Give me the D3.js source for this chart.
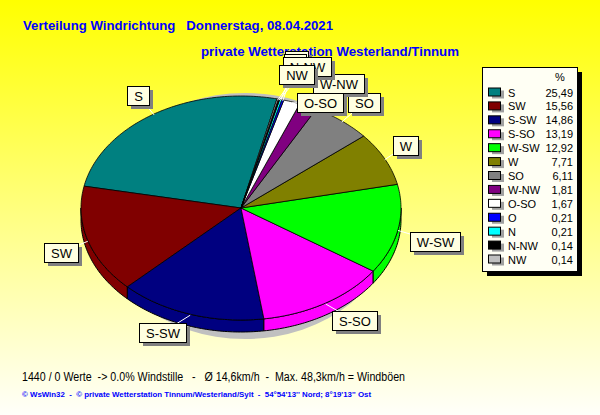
<!DOCTYPE html>
<html>
<head>
<meta charset="utf-8">
<script src="https://cdn.jsdelivr.net/npm/d3@7"></script>
<style>
  body { margin: 0; }
  svg { display: block; font-family: Arial, "Liberation Sans", sans-serif; }
</style>
</head>
<body>
<svg id="chart" width="600" height="415"></svg>
<script>
// wind direction shares, in legend order (pie runs counter-clockwise in this order)
const directions = ['S', 'SW', 'S-SW', 'S-SO', 'W-SW', 'W', 'SO', 'W-NW', 'O-SO', 'O', 'N', 'N-NW', 'NW'];
const shares = [25.49, 15.56, 14.86, 13.19, 12.92, 7.71, 6.11, 1.81, 1.67, 0.21, 0.21, 0.14, 0.14];
const colours = ['#008080', '#800000', '#000080', '#ff00ff', '#00ff00', '#808000', '#808080',
                 '#800080', '#ffffff', '#0000ff', '#00ffff', '#000000', '#c0c0c0'];
const shareLabels = shares.map(v => v.toFixed(2).replace('.', ','));

const title1 = 'Verteilung Windrichtung   Donnerstag, 08.04.2021';
const title2 = 'private Wetterstation Westerland/Tinnum';
const summary = '1440 / 0 Werte  -> 0.0% Windstille   -   Ø 14,6km/h  -  Max. 48,3km/h = Windböen';
const footer = "© WsWin32  -  © private Wetterstation Tinnum/Westerland/Sylt  -  54°54'13'' Nord; 8°19'13'' Ost";

// where the label boxes sit (top-left corners), same order as directions
const labelBoxes = [[127, 86], [44, 243], [139, 323], [332, 311], [410, 232], [393, 136], [348, 93],
                    [313, 74], [297, 93], [285, 51], [284, 54], [283, 57], [279, 65]];

const svg = d3.select('#chart');
const W = +svg.attr('width'), H = +svg.attr('height');

// background gradient, yellow at the top fading out
const defs = svg.append('defs');
const grad = defs.append('linearGradient').attr('id', 'bg').attr('x1', 0).attr('y1', 0).attr('x2', 0).attr('y2', 1);
grad.append('stop').attr('offset', '0%').attr('stop-color', '#ffff00');
grad.append('stop').attr('offset', '100%').attr('stop-color', '#fffffa');
svg.append('rect').attr('width', W).attr('height', H).attr('fill', 'url(#bg)');

// titles
svg.append('text').attr('x', 23).attr('y', 30).attr('fill', '#0000ff')
  .style('font-weight', 'bold').style('font-size', '13px').style('white-space', 'pre')
  .attr('textLength', 310).attr('lengthAdjust', 'spacingAndGlyphs').text(title1);
svg.append('text').attr('x', 201).attr('y', 55.5).attr('fill', '#0000ff')
  .style('font-weight', 'bold').style('font-size', '13px')
  .attr('textLength', 258).attr('lengthAdjust', 'spacingAndGlyphs').text(title2);

// pie geometry
const cx = 241, cy = 208, rx = 160, ry = 112, depth = 12;
const a0 = 13 * Math.PI / 180;
const pie = d3.pie().sort(null).value(d => d.value).startAngle(a0).endAngle(a0 - 2 * Math.PI);
const table = directions.map((d, i) => ({ name: d, value: shares[i], colour: colours[i] }));
const arcs = pie(table);

const px = a => cx + rx * Math.sin(a);
const py = a => cy - ry * Math.cos(a);
const line = d3.line();
function edge(from, to, dy) {
  const n = Math.max(2, Math.ceil(Math.abs(to - from) * 60));
  return d3.range(n + 1).map(i => {
    const a = from + (to - from) * i / n;
    return [px(a), py(a) + dy];
  });
}

// soft gray shadow under the pie
svg.append('ellipse').attr('cx', 245).attr('cy', 216).attr('rx', 150).attr('ry', 123).attr('fill', '#c0c0c0');

// side walls, only the front half is visible
const frontLo = -1.5 * Math.PI, frontHi = -0.5 * Math.PI;
const sides = svg.append('g');
arcs.forEach(d => {
  const lo = Math.max(d.endAngle, frontLo), hi = Math.min(d.startAngle, frontHi);
  if (hi <= lo) return;
  const top = edge(hi, lo, 0);
  const bottom = edge(lo, hi, depth);
  sides.append('path').attr('d', line(top.concat(bottom)) + 'Z')
    .attr('fill', d.data.colour).attr('stroke', '#000').attr('stroke-width', 1);
});

// top faces
const faces = svg.append('g');
arcs.forEach(d => {
  const pts = [[cx, cy]].concat(edge(d.startAngle, d.endAngle, 0));
  faces.append('path').attr('d', line(pts) + 'Z')
    .attr('fill', d.data.colour).attr('stroke', '#000').attr('stroke-width', 0.8)
    .attr('stroke-linejoin', 'round');
});

// labels with leader lines
const labels = svg.append('g').style('font-size', '13px');
arcs.forEach((d, i) => {
  const mid = (d.startAngle + d.endAngle) / 2;
  const [bx, by] = labelBoxes[i];
  const t = labels.append('text').attr('x', 0).attr('y', 0).text(d.data.name);
  const tw = t.node().getComputedTextLength();
  t.remove();
  const bw = Math.round(tw + 13), bh = 19;
  labels.append('line')
    .attr('x1', px(mid)).attr('y1', py(mid) + 1)
    .attr('x2', bx + bw / 2).attr('y2', by + bh / 2)
    .attr('stroke', '#fff').attr('stroke-width', 1);
});
arcs.forEach((d, i) => {
  const [bx, by] = labelBoxes[i];
  const g = labels.append('g').attr('transform', `translate(${bx},${by})`);
  const t = g.append('text').text(d.data.name);
  const tw = t.node().getComputedTextLength();
  const bw = Math.round(tw + 13), bh = 19;
  g.insert('rect', 'text').attr('x', 4).attr('y', 4).attr('width', bw).attr('height', bh).attr('fill', '#808080');
  g.insert('rect', 'text').attr('x', 0.5).attr('y', 0.5).attr('width', bw).attr('height', bh)
    .attr('fill', '#ffffe1').attr('stroke', '#000');
  t.attr('x', bw / 2 + 0.5).attr('y', 14.5).attr('text-anchor', 'middle').attr('fill', '#000');
});

// legend
const lg = svg.append('g').attr('transform', 'translate(482,67)');
lg.append('rect').attr('x', 5).attr('y', 5).attr('width', 95).attr('height', 204).attr('fill', '#000');
lg.append('rect').attr('x', 0.5).attr('y', 0.5).attr('width', 95).attr('height', 204)
  .attr('fill', '#fffff4').attr('stroke', '#000');
lg.append('text').attr('x', 78).attr('y', 14).attr('text-anchor', 'middle')
  .style('font-size', '11px').text('%');
const rowY = d3.scalePoint().domain(directions).range([25.5, 192.5]);
directions.forEach((d, i) => {
  const y = rowY(d);
  lg.append('rect').attr('x', 10).attr('y', y - 2).attr('width', 12).attr('height', 8).attr('fill', '#a0a0a0');
  lg.append('rect').attr('x', 6.5).attr('y', y - 4.5).attr('width', 12).attr('height', 8)
    .attr('fill', colours[i]).attr('stroke', '#000');
  lg.append('text').attr('x', 26).attr('y', y + 4).style('font-size', '11px').text(d);
  lg.append('text').attr('x', 91).attr('y', y + 4).attr('text-anchor', 'end')
    .style('font-size', '11px').text(shareLabels[i]);
});

// bottom lines
svg.append('text').attr('x', 22).attr('y', 381).style('font-size', '12px').style('white-space', 'pre')
  .attr('textLength', 383).attr('lengthAdjust', 'spacingAndGlyphs').attr('fill', '#000').text(summary);
svg.append('text').attr('x', 22).attr('y', 396.5).style('font-size', '8px').style('white-space', 'pre')
  .style('font-weight', 'bold')
  .attr('textLength', 349).attr('lengthAdjust', 'spacingAndGlyphs').attr('fill', '#0000ff').text(footer);
</script>
</body>
</html>
